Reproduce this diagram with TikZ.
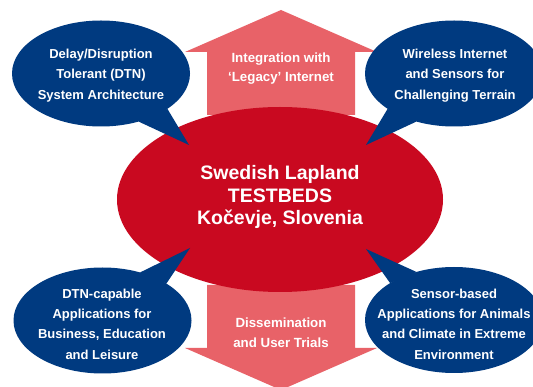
\documentclass[tikz,border=0pt]{standalone}
\usepackage{fontspec}
\setmainfont{Liberation Sans}
\usetikzlibrary{shapes.geometric}
\definecolor{bblue}{RGB}{0,58,128}
\definecolor{cred}{RGB}{201,9,32}
\definecolor{apink}{RGB}{232,98,104}
\tikzset{
  bubble/.style={ellipse, fill=bblue, inner sep=0pt, outer sep=0pt, minimum width=178pt, minimum height=106pt},
  btext/.style={text=white, align=center, font=\fontsize{13}{20.3}\selectfont\bfseries},
  atext/.style={text=white, align=center, font=\fontsize{13.3}{19.5}\selectfont\bfseries},
  ctext/.style={text=white, align=center, font=\fontsize{19.5}{22.5}\selectfont\bfseries},
  tail/.style={fill=bblue},
  arrowshape/.style={fill=apink}
}
\begin{document}
\begin{tikzpicture}[x=1pt,y=-1pt]
\useasboundingbox (0,0) rectangle (533,387);
\fill[white] (0,0) rectangle (533,387);
% top arrow
\coordinate (ta1) at (207,115);
\coordinate (ta2) at (207,52);
\coordinate (ta3) at (185,52);
\coordinate (ta4) at (281,10);
\coordinate (ta5) at (377,52);
\coordinate (ta6) at (355,52);
\coordinate (ta7) at (355,115);
\fill[arrowshape] (ta1) -- (ta2) -- (ta3) -- (ta4) -- (ta5) -- (ta6) -- (ta7) -- cycle;
% bottom arrow
\coordinate (ba1) at (207,285);
\coordinate (ba2) at (207,348);
\coordinate (ba3) at (185,348);
\coordinate (ba4) at (281,390);
\coordinate (ba5) at (377,348);
\coordinate (ba6) at (355,348);
\coordinate (ba7) at (355,285);
\fill[arrowshape] (ba1) -- (ba2) -- (ba3) -- (ba4) -- (ba5) -- (ba6) -- (ba7) -- cycle;
% centre ellipse
\node[ellipse, fill=cred, inner sep=0pt, outer sep=0pt, minimum width=326pt, minimum height=185pt] (c) at (280,199.5) {};
\node[ctext] (ct) at (280,197) {Swedish Lapland\\TESTBEDS\\Kočevje, Slovenia};
% arrow texts
\node[atext] (tat) at (281,68.5) {Integration with\\‘Legacy’ Internet};
\node[atext] (bat) at (281,332.5) {Dissemination\\and User Trials};
% bubbles
\node[bubble] (tl) at (101,73.5) {};
\node[bubble] (tr) at (454,73.5) {};
\node[bubble] (bl) at (102.5,320.5) {};
\node[bubble] (br) at (454,320) {};
\coordinate (tlp) at (189,145);
\coordinate (trp) at (366,145);
\coordinate (blp) at (190,248);
\coordinate (brp) at (366,249);
\fill[tail] (tl.-28) -- (tlp) -- (tl.-52) -- cycle;
\fill[tail] (tr.208) -- (trp) -- (tr.232) -- cycle;
\fill[tail] (bl.30) -- (blp) -- (bl.52) -- cycle;
\fill[tail] (br.150) -- (brp) -- (br.128) -- cycle;
\node[btext] (tlt) at (101,75.5) {Delay/Disruption\\Tolerant (DTN)\\System Architecture};
\node[btext] (trt) at (455,75.5) {Wireless Internet\\and Sensors for\\Challenging Terrain};
\node[btext] (blt) at (102,324) {DTN-capable\\Applications for\\Business, Education\\and Leisure};
\node[btext] (brt) at (454,324) {Sensor-based\\Applications for Animals\\and Climate in Extreme\\Environment};
\end{tikzpicture}
\end{document}
